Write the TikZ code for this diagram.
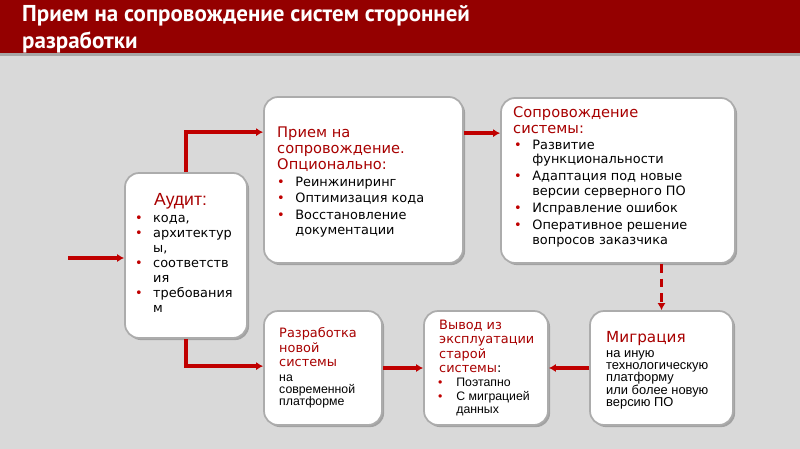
\documentclass[tikz,border=0pt]{standalone}
\usepackage{fontspec}
\usepackage{xcolor}
\usetikzlibrary{arrows.meta,calc,fit,shadows}
\newfontfamily\vfont{DejaVu Sans}
\newfontfamily\afont{Liberation Sans}
\newfontfamily\tfont{PT Sans}
\definecolor{ribbon}{HTML}{940000}
\definecolor{flow}{HTML}{C00000}
\definecolor{headred}{HTML}{A80000}
\definecolor{slidegray}{HTML}{D9D9D9}
\newcommand{\tp}{\rule{0pt}{1em}}
\newcommand{\bl}{\makebox[15.5pt][l]{\textcolor{flow}{\textbullet}}}
\newcommand{\ind}{\hspace*{15.5pt}}
\tikzset{
  card/.style={draw=gray!65, line width=1.5pt, fill=white, rounded corners=12pt, inner sep=0pt,
    drop shadow={shadow xshift=1.8pt, shadow yshift=-1.8pt, fill=gray!90, opacity=0.7}},
  txt/.style={anchor=north west, inner sep=0pt, align=left},
  head/.style={txt, text=headred, font=\vfont\fontsize{12.5}{13.6}\selectfont},
  body/.style={txt, font=\vfont\fontsize{11}{12.4}\selectfont},
  plain/.style={txt, font=\afont\fontsize{10.5}{10.3}\selectfont},
  flowline/.style={draw=flow, line width=3pt, -{Latex[length=6pt,width=7pt]}}
}
\begin{document}
\begin{tikzpicture}[x=0.03cm, y=-0.03cm]
\useasboundingbox (0,0) rectangle (800,449);
\fill[slidegray] (0,0) rectangle (800,449);
\fill[ribbon] (0,0) rectangle (800,53);
\fill[gray!70] (0,53) rectangle (800,56);
\node[txt, text=white, font=\tfont\bfseries\fontsize{19.6}{23}\selectfont] (title) at (22,-2)
  {\tp Прием на сопровождение систем сторонней\\разработки};

\node[card, fit={(125,173) (247,338)}] (audit) {};
\node[card, fit={(264,97) (463,263)}] (priem) {};
\node[card, fit={(501,98) (735,263)}] (sopr) {};
\node[card, fit={(264,311) (382,425)}] (razr) {};
\node[card, fit={(424,311) (548,425)}] (vyvod) {};
\node[card, fit={(590,311) (733,425)}] (migr) {};

\node[head, font=\afont\fontsize{15}{16}\selectfont] (auditH) at (154,187.4) {\tp Аудит:};
\node[body, font=\vfont\fontsize{11}{12.8}\selectfont] (auditB) at (134.8,209.1)
  {\tp\bl кода,\\ \bl архитектур\\ \ind ы,\\ \bl соответств\\ \ind ия\\ \bl требования\\ \ind м};

\node[head] (priemH) at (277,122.4) {\tp Прием на\\сопровождение.\\Опционально:};
\node[body] (priemB) at (277,173.1)
  {\tp\bl Реинжиниринг\\[1.8pt] \bl Оптимизация кода\\[1.8pt] \bl Восстановление\\ \ind документации};

\node[head] (soprH) at (513,102.4) {\tp Сопровождение\\системы:};
\node[body] (soprB) at (514,136)
  {\tp\bl Развитие\\ \ind функциональности\\[2.2pt] \bl Адаптация под новые\\ \ind версии серверного ПО\\[2.2pt]
   \bl Исправление ошибок\\[2.2pt] \bl Оперативное решение\\ \ind вопросов заказчика};

\node[head, font=\vfont\fontsize{11}{12.3}\selectfont] (razrH) at (279,324.6) {\tp Разработка\\новой\\системы};
\node[plain] (razrB) at (279,369.2) {\tp на\\современной\\платформе};

\node[head, font=\vfont\fontsize{11}{12.2}\selectfont] (vyvodH) at (439,316.3)
  {\tp Вывод из\\эксплуатации\\старой\\системы\textcolor{black}{:}};
\node[plain, font=\afont\fontsize{10.5}{11.5}\selectfont] (vyvodB) at (438,374.2)
  {\tp\bl Поэтапно\\ \bl С миграцией\\ \ind данных};

\node[head, font=\vfont\fontsize{13}{14}\selectfont] (migrH) at (606,326.8) {\tp Миграция};
\node[plain, font=\afont\fontsize{11}{10.5}\selectfont] (migrB) at (606,344.1)
  {\tp на иную\\технологическую\\платформу\\или более новую\\версию ПО};

\coordinate (in) at (68,258);
\draw[flowline] (in) -- (in -| audit.west);
\draw[flowline] (audit.north) |- ($(priem.north west)+(0,36)$);
\draw[flowline] (audit.south) |- ($(razr.north west)+(0,56)$);
\draw[flowline] ($(priem.north east)+(0,37)$) coordinate (p1) -- (p1 -| sopr.west);
\draw[flowline, dash pattern=on 7.5pt off 5pt] (migr.north |- sopr.south) -- (migr.north);
\draw[flowline] (razr.east) -- (vyvod.west);
\draw[flowline] (migr.west) -- (vyvod.east);
\end{tikzpicture}
\end{document}
